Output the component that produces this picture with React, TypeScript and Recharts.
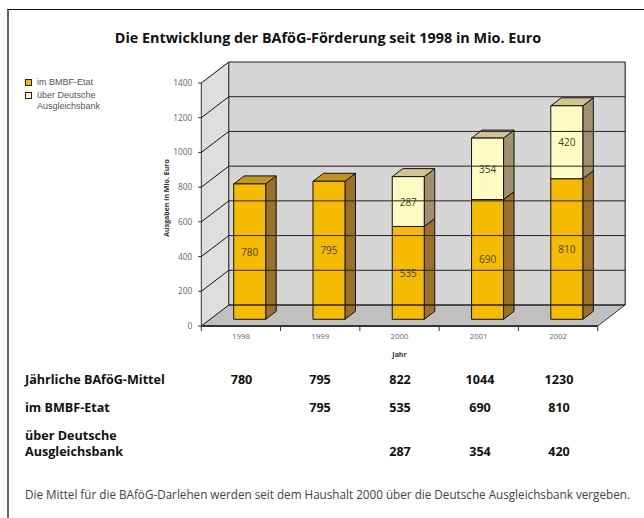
import React from "react";
import { BarChart, Bar, XAxis, YAxis, ReferenceArea, ReferenceLine, LabelList } from "recharts";

const years = ["1998", "1999", "2000", "2001", "2002"];
const etat = [780, 795, 535, 690, 810];
const bank: (number | null)[] = [null, null, 287, 354, 420];
const yTicks = [0, 200, 400, 600, 800, 1000, 1200, 1400];
const data = years.map((year, i) => ({ year, etat: etat[i], bank: bank[i] }));

const legendItems = [
  { label: ["im BMBF-Etat"], color: "#f5bb00" },
  { label: ["über Deutsche", "Ausgleichsbank"], color: "#fffbc3" },
];
const tableRows = [
  { label: ["Jährliche BAföG-Mittel"], values: ["780", "795", "822", "1044", "1230"], top: 371.5 },
  { label: ["im BMBF-Etat"], values: ["", "795", "535", "690", "810"], top: 399.5 },
  { label: ["über Deutsche", "Ausgleichsbank"], values: ["", "", "287", "354", "420"], top: 427.5 },
];
const tableCols = [241.5, 320, 400, 480, 559];
const footnote = "Die Mittel für die BAföG-Darlehen werden seit dem Haushalt 2000 über die Deutsche Ausgleichsbank vergeben.";

const DX = 27.5, DY = -21;
const BX = 8.4, BY = -6.7;
const SX = 10.5, SY = -8;
const FONT = "'Open Sans', sans-serif";

const Walls = ({ x, y, width, height }: any) => {
  const r = x + width, b = y + height;
  return (
    <g>
      <polygon points={`${x},${y} ${x + DX},${y + DY} ${r + DX},${y + DY} ${r + DX},${b + DY} ${x + DX},${b + DY} ${x},${b}`} fill="#d6d6d6" />
      <polygon points={`${x},${y} ${x + DX},${y + DY} ${x + DX},${b + DY} ${x},${b}`} fill="#dedede" />
      <polygon points={`${x},${b} ${r},${b} ${r + DX},${b + DY} ${x + DX},${b + DY}`} fill="#c0c0c0" />
      <line x1={x + DX} y1={y + DY} x2={x + DX} y2={b + DY} stroke="#111" />
      <line x1={r + DX} y1={y + DY} x2={r + DX} y2={b + DY} stroke="#555" strokeWidth={1.5} />
      <line x1={x} y1={y} x2={x} y2={b} stroke="#333" />
      <line x1={r} y1={b} x2={r + DX} y2={b + DY} stroke="#333" />
    </g>
  );
};

const GridLine = ({ x1, y1, x2, y2, heavy }: any) => (
  <g>
    <line x1={x1 - 3} y1={y1} x2={x1} y2={y1} stroke="#222" />
    <line x1={x1} y1={y1} x2={x1 + DX} y2={y1 + DY} stroke="#111" />
    <line x1={x1 + DX} y1={y1 + DY} x2={x2 + DX} y2={y2 + DY} stroke="#222" strokeWidth={heavy ? 1.6 : 1} />
  </g>
);

const makeBar = (front: string, side: string, top: string) => (props: any) => {
  const { x, y, width, height } = props;
  if (!height || height <= 0) return <g />;
  const l = x + BX, t = y + BY, r = l + width, b = t + height;
  return (
    <g stroke="#111" strokeWidth={1} strokeLinejoin="round">
      <polygon points={`${r},${t} ${r + SX},${t + SY} ${r + SX},${b + SY} ${r},${b}`} fill={side} />
      <polygon points={`${l},${t} ${l + SX},${t + SY} ${r + SX},${t + SY} ${r},${t}`} fill={top} />
      <rect x={l} y={t} width={width} height={height} fill={front} />
    </g>
  );
};

const barLabel = (props: any) => {
  const { x, y, width, height, value } = props;
  if (value == null) return null;
  return (
    <text x={x + width / 2 + BX} y={y + height / 2 + BY} textAnchor="middle" dominantBaseline="central"
      fontFamily={FONT} fontSize={10} fill="#4a4020">{value}</text>
  );
};

const XTick = ({ x, y, payload, index }: any) => {
  const band = 79.28;
  const last = index === years.length - 1;
  return (
    <g>
      <line x1={x - band / 2} y1={y - 8} x2={x - band / 2} y2={y - 3} stroke="#333" />
      {last && <line x1={x + band / 2} y1={y - 8} x2={x + band / 2} y2={y - 3} stroke="#333" />}
      <text x={x} y={y + 5} textAnchor="middle" fontFamily={FONT} fontSize={7.8} fill="#666">{payload.value}</text>
    </g>
  );
};

export default function App() {
  return (
    <div style={{ position: "absolute", left: 0, top: 0, width: 644, height: 518, background: "#fff", overflow: "hidden" }}>
      <div style={{ position: "absolute", left: 7, top: 9, width: 640, height: 512, borderTop: "1.5px solid #111", borderLeft: "2px solid #666", boxSizing: "border-box" }} />
      <div style={{ position: "absolute", left: 28, top: 28, width: 600, textAlign: "center", fontFamily: FONT, fontWeight: 700, fontSize: 14.4, color: "#111", whiteSpace: "nowrap" }}>
        Die Entwicklung der BAföG-Förderung seit 1998 in Mio. Euro
      </div>
      <div style={{ position: "absolute", left: 0, top: 0 }}>
        <BarChart width={644} height={518} data={data} barSize={32} barCategoryGap={0}
          margin={{ left: 141.3, right: 46.3, top: 83, bottom: 162 }}>
          <ReferenceArea y1={0} y2={1400} shape={<Walls />} ifOverflow="visible" />
          {yTicks.map((v) => (
            <ReferenceLine key={v} y={v} ifOverflow="visible" shape={<GridLine heavy={v === 0} />} />
          ))}
          <XAxis dataKey="year" height={30} tickLine={false} axisLine={{ stroke: "#333", strokeWidth: 2 }} tick={<XTick />}
            interval={0} label={{ value: "Jahr", position: "insideBottom", offset: 0, dy: 1, fontFamily: FONT, fontWeight: 700, fontSize: 7, fill: "#333" }} />
          <YAxis width={60} domain={[0, 1400]} ticks={yTicks} axisLine={false} tickLine={false}
            tick={{ fontFamily: FONT, fontSize: 8.3, fill: "#666" }} tickMargin={3}
            label={{ value: "Ausgaben in Mio. Euro", angle: -90, position: "insideLeft", dx: 20, dy: -6.5, textAnchor: "middle", fontFamily: FONT, fontWeight: 700, fontSize: 7, fill: "#333" }} />
          <Bar dataKey="etat" stackId="a" isAnimationActive={false} shape={makeBar("#f5bb00", "#9b7028", "#c4951a")}>
            <LabelList dataKey="etat" content={barLabel} />
          </Bar>
          <Bar dataKey="bank" stackId="a" isAnimationActive={false} shape={makeBar("#fffbc3", "#a09070", "#d0c490")}>
            <LabelList dataKey="bank" content={barLabel} />
          </Bar>
        </BarChart>
      </div>
      <div style={{ position: "absolute", left: 25, top: 76.5, fontFamily: "'Liberation Sans', sans-serif", fontSize: 9, lineHeight: "11px", color: "#555" }}>
        {legendItems.map((it, i) => (
          <div key={i} style={{ position: "relative", paddingLeft: 12, marginBottom: 2 }}>
            <span style={{ position: "absolute", left: 0, top: 2, width: 5, height: 5, background: it.color, border: "1px solid #222" }} />
            {it.label.map((t) => <div key={t}>{t}</div>)}
          </div>
        ))}
      </div>
      {tableRows.map((row, i) => (
        <React.Fragment key={i}>
          <div style={{ position: "absolute", left: 25, top: row.top, fontFamily: FONT, fontWeight: 700, fontSize: 12.6, lineHeight: "16px", color: "#111" }}>
            {row.label.map((t) => <div key={t}>{t}</div>)}
          </div>
          {row.values.map((v, j) => v && (
            <div key={j} style={{ position: "absolute", left: tableCols[j] - 25, width: 50, textAlign: "center", top: row.top + (row.label.length - 1) * 16, fontFamily: FONT, fontWeight: 700, fontSize: 12.6, lineHeight: "16px", color: "#111" }}>{v}</div>
          ))}
        </React.Fragment>
      ))}
      <div style={{ position: "absolute", left: 25, top: 486, fontFamily: FONT, fontSize: 11.7, color: "#444", whiteSpace: "nowrap" }}>{footnote}</div>
    </div>
  );
}
